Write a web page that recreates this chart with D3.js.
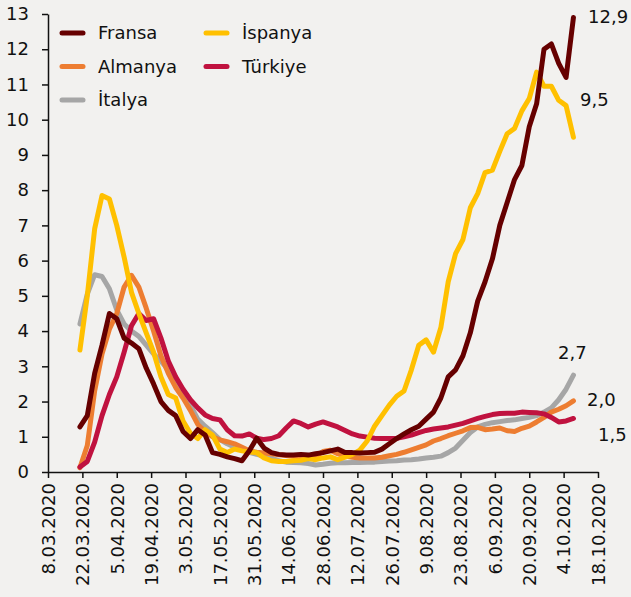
<!DOCTYPE html>
<html>
<head>
<meta charset="utf-8">
<script src="https://cdn.jsdelivr.net/npm/d3@7"></script>
<style>
    body { margin: 0; background: #f2f1ef; }
    #chart { width: 631px; height: 597px; }
    text { font-family: "DejaVu Sans", sans-serif; fill: #111; }
</style>
</head>
<body>
<div id="chart"></div>
<script>
// dates every 3 days (2020)
const dates = ["21.03","24.03","27.03","30.03",
    "2.04","5.04","8.04","11.04","14.04","17.04","20.04","23.04","26.04","29.04",
    "2.05","5.05","8.05","11.05","14.05","17.05","20.05","23.05","26.05","29.05",
    "1.06","4.06","7.06","10.06","13.06","16.06","19.06","22.06","25.06","28.06",
    "1.07","4.07","7.07","10.07","13.07","16.07","19.07","22.07","25.07","28.07","31.07",
    "3.08","6.08","9.08","12.08","15.08","18.08","21.08","24.08","27.08","30.08",
    "2.09","5.09","8.09","11.09","14.09","17.09","20.09","23.09","26.09","29.09",
    "2.10","5.10","8.10"];

const fransa = [1.28,1.6,2.8,3.6, 4.5,4.35,3.8,3.66,3.5,2.95,2.5,2.0,1.75,1.6,
    1.15,0.95,1.2,1.05,0.55,0.5,0.43,0.38,0.32,0.6,
    0.96,0.68,0.55,0.5,0.48,0.48,0.5,0.48,0.52,0.55,
    0.6,0.65,0.55,0.55,0.54,0.55,0.56,0.65,0.8,0.95,1.08,
    1.2,1.3,1.5,1.7,2.1,2.7,2.9,3.3,3.95,4.85,
    5.4,6.05,7.0,7.65,8.3,8.7,9.8,10.45,12.0,12.15,
    11.6,11.2,12.9];

const almanya = [0.12,0.75,2.3,3.35, 4.05,4.5,5.25,5.58,5.25,4.65,4.0,3.3,2.8,2.4,
    2.1,1.75,1.35,1.15,1.0,0.91,0.86,0.8,0.7,0.6,
    0.56,0.54,0.52,0.49,0.47,0.45,0.43,0.38,0.45,0.58,
    0.62,0.52,0.45,0.42,0.4,0.4,0.4,0.42,0.46,0.5,0.56,
    0.63,0.7,0.77,0.88,0.95,1.03,1.1,1.17,1.26,1.27,
    1.2,1.22,1.25,1.17,1.15,1.24,1.3,1.42,1.55,1.7,
    1.78,1.88,2.02];

const italya = [4.2,5.05,5.6,5.55, 5.2,4.6,4.2,4.0,3.85,3.6,3.35,3.15,2.9,2.6,
    2.25,1.9,1.5,1.3,1.12,0.92,0.8,0.7,0.62,0.56,
    0.5,0.45,0.4,0.32,0.28,0.27,0.26,0.24,0.2,0.22,
    0.25,0.26,0.26,0.27,0.27,0.28,0.28,0.3,0.31,0.32,0.34,
    0.35,0.37,0.4,0.42,0.45,0.55,0.68,0.9,1.12,1.28,
    1.35,1.4,1.43,1.46,1.48,1.52,1.55,1.6,1.7,1.82,
    2.05,2.35,2.75];

const ispanya = [3.46,5.0,6.9,7.85, 7.75,7.0,6.1,5.1,4.5,3.95,3.4,2.7,2.2,2.1,
    1.45,1.1,0.95,1.2,1.05,0.65,0.55,0.65,0.6,0.57,
    0.55,0.4,0.32,0.3,0.3,0.32,0.33,0.38,0.35,0.4,
    0.43,0.35,0.42,0.5,0.62,0.88,1.3,1.6,1.9,2.15,2.3,
    2.9,3.6,3.75,3.4,4.1,5.4,6.2,6.6,7.5,7.9,
    8.5,8.57,9.1,9.6,9.75,10.25,10.6,11.35,10.95,10.95,
    10.55,10.4,9.5];

const turkiye = [0.14,0.3,0.85,1.6, 2.2,2.7,3.4,4.15,4.5,4.3,4.35,3.8,3.15,2.7,
    2.35,2.05,1.82,1.62,1.52,1.48,1.2,1.03,1.02,1.08,
    0.96,0.92,0.95,1.03,1.25,1.45,1.38,1.28,1.36,1.42,
    1.35,1.28,1.18,1.08,1.02,0.99,0.96,0.95,0.95,0.96,1.0,
    1.05,1.12,1.18,1.22,1.25,1.28,1.33,1.38,1.45,1.52,
    1.58,1.63,1.66,1.67,1.67,1.7,1.69,1.68,1.65,1.55,
    1.42,1.45,1.52];

const tickDates = ["8.03.2020","22.03.2020","5.04.2020","19.04.2020","3.05.2020","17.05.2020",
    "31.05.2020","14.06.2020","28.06.2020","12.07.2020","26.07.2020","9.08.2020","23.08.2020",
    "6.09.2020","20.09.2020","4.10.2020","18.10.2020"];
const yTicks = [0,1,2,3,4,5,6,7,8,9,10,11,12,13];

const series = [
    {name: "İtalya", values: italya, color: "#a6a6a6", end: "2,7"},
    {name: "Almanya", values: almanya, color: "#ed7d31", end: "2,0"},
    {name: "Türkiye", values: turkiye, color: "#c0123f", end: "1,5"},
    {name: "İspanya", values: ispanya, color: "#ffc000", end: "9,5"},
    {name: "Fransa", values: fransa, color: "#660000", end: "12,9"}
];
const legendOrder = ["Fransa", "Almanya", "İtalya", "İspanya", "Türkiye"];

class RateChart {
    constructor(parentElement) {
        this.parentElement = parentElement;
        this.initVis();
    }

    initVis() {
        let vis = this;
        vis.width = 631;
        vis.height = 597;
        vis.margin = {top: 14, right: 33, bottom: 125, left: 48};

        vis.svg = d3.select("#" + vis.parentElement).append("svg")
            .attr("width", vis.width)
            .attr("height", vis.height);

        vis.parse = d3.timeParse("%d.%m.%Y");

        vis.x = d3.scaleTime()
            .domain([vis.parse("8.03.2020"), vis.parse("18.10.2020")])
            .range([vis.margin.left, vis.width - vis.margin.right]);
        vis.y = d3.scaleLinear()
            .domain([0, 13])
            .range([vis.height - vis.margin.bottom, vis.margin.top]);

        vis.updateVis();
    }

    updateVis() {
        let vis = this;

        // y axis
        let yAxis = vis.svg.append("g")
            .attr("transform", `translate(${vis.margin.left},0)`)
            .call(d3.axisLeft(vis.y).tickValues(yTicks).tickSize(6).tickSizeOuter(0).tickPadding(13));
        yAxis.selectAll("text").style("font-size", "18px").attr("fill", "#111");
        yAxis.selectAll("line, path").attr("stroke", "#111").attr("stroke-width", 1.5);

        // x axis
        let xAxis = vis.svg.append("g")
            .attr("transform", `translate(0,${vis.y(0)})`)
            .call(d3.axisBottom(vis.x)
                .tickValues(tickDates.map(vis.parse))
                .tickFormat((d, i) => tickDates[i])
                .tickSize(6).tickSizeOuter(0));
        xAxis.selectAll("line, path").attr("stroke", "#111").attr("stroke-width", 1.5);
        xAxis.selectAll("text")
            .style("font-size", "18px")
            .attr("fill", "#111")
            .attr("text-anchor", "end")
            .attr("transform", "rotate(-90)")
            .attr("x", -11)
            .attr("y", 0)
            .attr("dy", "0.35em");

        // lines
        let line = d3.line()
            .x((d, i) => vis.x(vis.parse(dates[i] + ".2020")))
            .y(d => vis.y(d));

        vis.svg.selectAll(".series")
            .data(series)
            .enter()
            .append("path")
            .attr("class", "series")
            .attr("d", d => line(d.values))
            .attr("fill", "none")
            .attr("stroke", d => d.color)
            .attr("stroke-width", 5)
            .attr("stroke-linejoin", "round")
            .attr("stroke-linecap", "round");

        // end labels
        let endPos = {"Fransa": [588, 17], "İspanya": [580, 100], "İtalya": [558, 353], "Almanya": [587, 400], "Türkiye": [598, 435]};
        vis.svg.selectAll(".endLabel")
            .data(series)
            .enter()
            .append("text")
            .attr("class", "endLabel")
            .attr("x", d => endPos[d.name][0])
            .attr("y", d => endPos[d.name][1])
            .attr("dy", "0.35em")
            .style("font-size", "18px")
            .text(d => d.end);

        // legend
        let legend = vis.svg.selectAll(".legendItem")
            .data(legendOrder)
            .enter()
            .append("g")
            .attr("class", "legendItem")
            .attr("transform", (d, i) => `translate(${i < 3 ? 62 : 206}, ${33 + (i % 3) * 33.5})`);
        legend.append("line")
            .attr("x1", 0).attr("x2", 21)
            .attr("stroke", d => series.find(s => s.name === d).color)
            .attr("stroke-width", 5)
            .attr("stroke-linecap", "round");
        legend.append("text")
            .attr("x", 36)
            .attr("dy", "0.35em")
            .style("font-size", "18px")
            .text(d => d);
    }
}

new RateChart("chart");
</script>
</body>
</html>
